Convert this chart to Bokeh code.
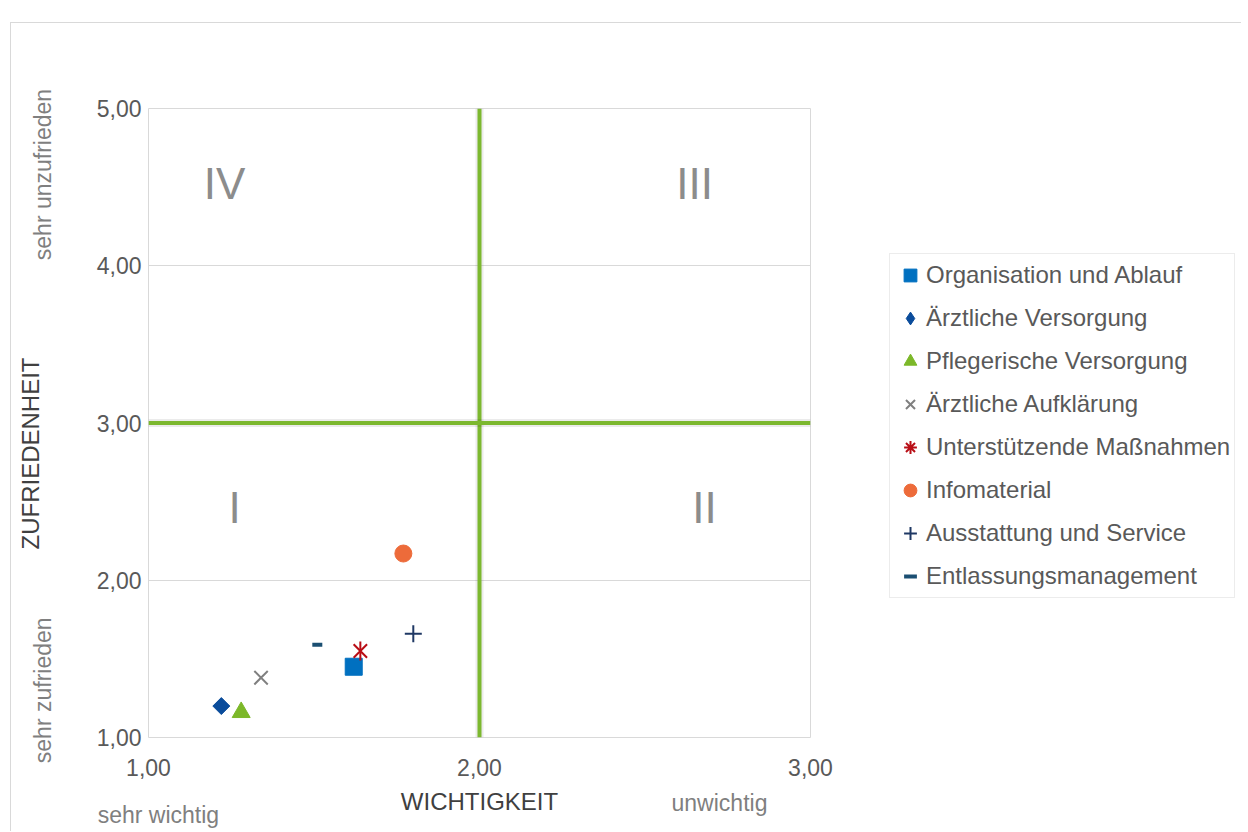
from bokeh.plotting import figure
from bokeh.models import Span, Label, Legend, LegendItem, LinearAxis
from bokeh.layouts import row
from bokeh.embed import file_html
from bokeh.resources import INLINE
import math

# ---- data ----
categories = ["Organisation und Ablauf", "Ärztliche Versorgung", "Pflegerische Versorgung",
              "Ärztliche Aufklärung", "Unterstützende Maßnahmen", "Infomaterial",
              "Ausstattung und Service", "Entlassungsmanagement"]
wichtigkeit = [1.62, 1.22, 1.28, 1.34, 1.64, 1.77, 1.80, 1.51]
zufriedenheit = [1.45, 1.20, 1.16, 1.38, 1.55, 2.17, 1.66, 1.59]
x_ticks = [1, 2, 3]
x_tick_labels = ["1,00", "2,00", "3,00"]
y_ticks = [1, 2, 3, 4, 5]
y_tick_labels = ["1,00", "2,00", "3,00", "4,00", "5,00"]
x_threshold = 2
y_threshold = 3
quadrant_names = ["I", "II", "III", "IV"]
x_title = "WICHTIGKEIT"
y_title = "ZUFRIEDENHEIT"
x_low, x_high = "sehr wichtig", "unwichtig"
y_low, y_high = "sehr zufrieden", "sehr unzufrieden"

FONT = "Liberation Sans"

# ---------------- main chart ----------------
p = figure(width=829, height=808, x_range=(1, 3), y_range=(1, 5),
           output_backend="svg", toolbar_location=None, title=None,
           min_border_left=137, min_border_right=30, min_border_top=85, min_border_bottom=94)
p.background_fill_color = "white"
p.border_fill_color = "white"
p.outline_line_color = "#d9d9d9"
p.outline_line_width = 1
p.xgrid.grid_line_color = None
p.ygrid.grid_line_color = "#d9d9d9"
p.ygrid.ticker = y_ticks


def style_axis(ax, color="#595959", size="23px", standoff=7):
    ax.axis_line_color = None
    ax.major_tick_line_color = None
    ax.minor_tick_line_color = None
    ax.major_tick_in = 0
    ax.major_tick_out = 0
    ax.minor_tick_in = 0
    ax.minor_tick_out = 0
    ax.major_label_text_color = color
    ax.major_label_text_font = FONT
    ax.major_label_text_font_size = size
    ax.major_label_standoff = standoff


style_axis(p.xaxis[0], standoff=21)
p.xaxis.ticker = x_ticks
p.xaxis.major_label_overrides = dict(zip(x_ticks, x_tick_labels))
style_axis(p.yaxis[0], standoff=7)
p.yaxis.ticker = y_ticks
p.yaxis.major_label_overrides = dict(zip(y_ticks, y_tick_labels))


def text_axis(side, pos, text, color, size, standoff, vertical=False):
    ax = LinearAxis(ticker=[pos], major_label_overrides={pos: text})
    style_axis(ax, color=color, size=size, standoff=standoff)
    if vertical:
        ax.major_label_orientation = "vertical"
    p.add_layout(ax, side)
    return ax


# descriptor texts below the x axis
text_axis("below", 2.0, x_title, "#404040", "24px", 9)
text_axis("below", 2.725, x_high, "#7f7f7f", "23px", -28)
text_axis("below", 1.03, x_low, "#7f7f7f", "23px", -17)
# descriptor texts left of the y axis
ax_l1 = LinearAxis(ticker=[4.58, 1.30], major_label_overrides={4.58: y_high, 1.30: y_low})
style_axis(ax_l1, color="#7f7f7f", size="23px", standoff=37)
ax_l1.major_label_orientation = "vertical"
p.add_layout(ax_l1, "left")
text_axis("left", 2.806, y_title, "#404040", "24px", -17, vertical=True)

# threshold lines
green = "#7CB82F"
for loc, dim in ((x_threshold, "height"), (y_threshold, "width")):
    p.add_layout(Span(location=loc, dimension=dim, line_color="#000000", line_alpha=0.08,
                      line_width=8, level="underlay"))
    p.add_layout(Span(location=loc, dimension=dim, line_color=green, line_width=4, level="underlay"))

# marker styles per category
styles = [
    dict(marker="square", color="#0070C0", size=17, angle=0.0, lw=1, legend_marker="square"),
    dict(marker="square", color="#0A4C9B", size=12, angle=math.pi / 4, lw=1, legend_marker="diamond"),
    dict(marker="triangle", color="#7CB829", size=18, angle=0.0, lw=1, legend_marker="triangle"),
    dict(marker="x", color="#808080", size=19, angle=0.0, lw=2, legend_marker="x"),
    dict(marker="x", color="#B90E16", size=19, angle=0.0, lw=2, legend_marker="asterisk"),
    dict(marker="circle", color="#ED6B3A", size=17, angle=0.0, lw=1, legend_marker="circle"),
    dict(marker="cross", color="#1F3864", size=17, angle=0.0, lw=2, legend_marker="cross"),
    dict(marker="dash", color="#1B4F72", size=10, angle=0.0, lw=4, legend_marker="dash"),
]

for i, (name, st) in enumerate(zip(categories, styles)):
    p.scatter(x=[wichtigkeit[i]], y=[zufriedenheit[i]], marker=st["marker"], size=st["size"],
              angle=st["angle"], fill_color=st["color"], line_color=st["color"],
              line_width=st["lw"])
    if name == "Unterstützende Maßnahmen":
        p.scatter(x=[wichtigkeit[i]], y=[zufriedenheit[i]], marker="dash", size=19,
                  angle=math.pi / 2, line_color=st["color"], line_width=2)

# quadrant numerals (placed in the four quadrants)
quad_pos = [(1.26, 2.46), (2.68, 2.46), (2.65, 4.52), (1.23, 4.52)]
for name, (qx, qy) in zip(quadrant_names, quad_pos):
    p.add_layout(Label(x=qx, y=qy, text=name, text_align="center", text_baseline="middle",
                       text_font=FONT, text_font_size="44px", text_color="#8c8c8c"))

# ---------------- legend panel ----------------
# (its own ranges lie outside the data, so the series only supply legend glyphs here)
q = figure(width=401, height=808, x_range=(0, 1), y_range=(0, 1),
           output_backend="svg", toolbar_location=None, title=None,
           x_axis_location=None, y_axis_location=None,
           min_border_left=0, min_border_right=0, min_border_top=0, min_border_bottom=0)
q.outline_line_color = None
q.background_fill_color = "white"
q.border_fill_color = "white"
q.xgrid.visible = False
q.ygrid.visible = False

items = []
for i, (name, st) in enumerate(zip(categories, styles)):
    r = q.scatter(x=[wichtigkeit[i]], y=[zufriedenheit[i]], marker=st["legend_marker"],
                  size=st["size"], fill_color=st["color"], line_color=st["color"],
                  line_width=st["lw"])
    items.append(LegendItem(label=name, renderers=[r]))

legend = Legend(items=items, location=(49, 139), orientation="vertical",
                border_line_color="#d9d9d9", border_line_width=1,
                background_fill_color="white", background_fill_alpha=1.0,
                label_text_font=FONT, label_text_font_size="24px", label_text_color="#595959",
                glyph_width=32, glyph_height=34, label_height=34, spacing=9, padding=4,
                label_standoff=0, margin=0)
q.add_layout(legend)

layout = row(p, q, margin=(22, 0, 0, 10), spacing=0,
             styles={"border-left": "1px solid #d9d9d9", "border-top": "1px solid #d9d9d9"})

open("out.html", "w").write(file_html(layout, INLINE))
